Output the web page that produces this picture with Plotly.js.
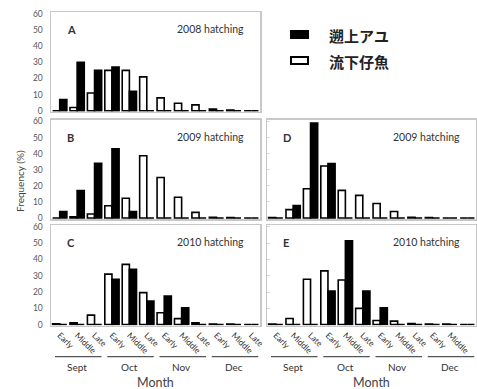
<!DOCTYPE html>
<html>
<head>
<meta charset="utf-8">
<script src="https://cdn.plot.ly/plotly-3.0.1.min.js"></script>
<style>html,body{margin:0;padding:0;background:#fff;}#chart{width:477px;height:389px;}</style>
</head>
<body>
<div id="chart"></div>
<script>
// ---- data ----
const months = ['Sept', 'Oct', 'Nov', 'Dec'];
const periods = ['Early', 'Middle', 'Late'];
const seriesNames = ['遡上アユ', '流下仔魚'];
const panelLetters = ['A', 'B', 'C', 'D', 'E'];
const panelYears = ['2008 hatching', '2009 hatching', '2010 hatching', '2009 hatching', '2010 hatching'];

// 遡上アユ (black) and 流下仔魚 (white), frequency (%) per 10-day period
const ascA = [7, 30, 25, 27, 12, 0, 0, 0, 0, 0, 0, 0];
const larA = [0, 2, 11, 25, 25, 21, 8, 4.6, 3.6, 1, 0.4, 0];
const ascB = [4, 17, 34, 43, 4, 0, 0, 0, 0, 0, 0, 0];
const larB = [0, 0.8, 2.5, 7.6, 12.3, 38.7, 25.2, 12.9, 3.5, 0.5, 0.3, 0];
const ascC = [0, 0, 0, 27.8, 34, 14.4, 17.5, 10.3, 0, 0, 0, 0];
const larC = [0.5, 1, 5.8, 31, 37, 19.6, 7.2, 3.6, 1, 0.3, 0.3, 0];
const ascD = [0, 7.8, 59, 33.8, 0, 0, 0, 0, 0, 0, 0, 0];
const larD = [0.3, 5.2, 18.2, 32.3, 17.2, 14.1, 9, 4.1, 0.5, 0.3, 0, 0];
const ascE = [0, 0, 0, 20.6, 51.5, 20.6, 10.3, 0, 0, 0, 0, 0];
const larE = [0.3, 3.7, 27.8, 33, 27.4, 9.9, 2.5, 2.1, 0.6, 0.3, 0.3, 0];

const ascending = [ascA, ascB, ascC, ascD, ascE];
const larvae = [larA, larB, larC, larD, larE];

// ---- layout helpers (pixel -> paper) ----
const W = 477, H = 389;
const px = v => v / W;
const py = v => 1 - v / H;

const xIdx = [];
const tickText = [];
months.forEach((m, mi) => periods.forEach((p, pi) => { xIdx.push(mi * 3 + pi); tickText.push(p); }));

const leftX = [51, 260], rightX = [267, 476];
const rowA = [12, 111.7], rowB = [119.5, 219], rowC = [225, 325.5];
const panels = [
  {x: leftX, y: rowA, xl: false, yl: true},
  {x: leftX, y: rowB, xl: false, yl: true},
  {x: leftX, y: rowC, xl: true, yl: true},
  {x: rightX, y: rowB, xl: false, yl: false},
  {x: rightX, y: rowC, xl: true, yl: false}
];

const FONT = 'Lato, "Open Sans", sans-serif';
const CJK = '"Noto Sans CJK JP", sans-serif';
const frameColor = '#c8c8c8';

const data = [];
const layout = {
  width: W, height: H,
  margin: {l: 0, r: 0, t: 0, b: 0},
  paper_bgcolor: '#fff', plot_bgcolor: '#fff',
  barmode: 'group', bargap: 0.18, bargroupgap: 0,
  showlegend: false,
  font: {family: FONT, color: '#444'},
  annotations: [], shapes: []
};

panels.forEach((p, i) => {
  const n = i + 1;
  const xa = 'x' + (n === 1 ? '' : n), ya = 'y' + (n === 1 ? '' : n);
  const xKey = 'xaxis' + (n === 1 ? '' : n), yKey = 'yaxis' + (n === 1 ? '' : n);
  data.push({
    type: 'bar', x: xIdx, y: larvae[i], name: seriesNames[1], xaxis: xa, yaxis: ya,
    marker: {color: '#ffffff', line: {color: '#000', width: 1.6}}, hoverinfo: 'y+name'
  });
  data.push({
    type: 'bar', x: xIdx, y: ascending[i], name: seriesNames[0], xaxis: xa, yaxis: ya,
    marker: {color: '#000000', line: {color: '#000', width: 1.6}}, hoverinfo: 'y+name'
  });
  layout[xKey] = {
    domain: [px(p.x[0]), px(p.x[1])], anchor: ya,
    range: [-0.5, 11.5], tickmode: 'array', tickvals: xIdx, ticktext: tickText,
    showticklabels: p.xl, tickangle: 45, tickfont: {size: 8.5, color: '#333'},
    ticks: '', showgrid: false, zeroline: false,
    showline: true, mirror: true, linecolor: frameColor, linewidth: 1.5, fixedrange: true
  };
  layout[yKey] = {
    domain: [py(p.y[1]), py(p.y[0])], anchor: xa,
    range: [-0.6, 61.2], tickmode: 'array', tickvals: [0, 10, 20, 30, 40, 50, 60],
    showticklabels: p.yl, tickfont: {size: 8.5, color: '#595959'}, ticklabelstandoff: 5,
    ticks: p.yl ? '' : 'inside', ticklen: 3, tickcolor: '#d8d8d8',
    showgrid: false, zeroline: false,
    showline: true, mirror: true, linecolor: frameColor, linewidth: 1.5, fixedrange: true
  };
  // panel letter
  layout.annotations.push({
    xref: 'paper', yref: 'paper', x: px(p.x[0] + 14), y: py(p.y[0] + 18),
    xanchor: 'left', yanchor: 'middle', showarrow: false,
    text: '<b>' + panelLetters[i] + '</b>', font: {size: 11, color: '#333', family: FONT}
  });
  // hatching year
  layout.annotations.push({
    xref: 'paper', yref: 'paper', x: px(p.x[1] - 14), y: py(p.y[0] + 17),
    xanchor: 'right', yanchor: 'middle', showarrow: false,
    text: panelYears[i], font: {size: 10.5, color: '#333', family: FONT}
  });
  if (p.xl) {
    months.forEach((m, mi) => {
      layout.shapes.push({
        type: 'line', xref: xa, yref: 'paper',
        x0: mi * 3 - 0.27, x1: mi * 3 + 2.4, y0: py(356.7), y1: py(356.7),
        line: {color: '#555', width: 1.3}
      });
      layout.annotations.push({
        xref: xa, yref: 'paper', x: mi * 3 + 1, y: py(367),
        xanchor: 'center', yanchor: 'middle', showarrow: false,
        text: m, font: {size: 10, color: '#333', family: FONT}
      });
    });
    layout.annotations.push({
      xref: 'paper', yref: 'paper', x: px((p.x[0] + p.x[1]) / 2), y: py(382),
      xanchor: 'center', yanchor: 'middle', showarrow: false,
      text: 'Month', font: {size: 12.5, color: '#444', family: FONT}
    });
  }
});

// y axis title
layout.annotations.push({
  xref: 'paper', yref: 'paper', x: px(20), y: py(181),
  xanchor: 'center', yanchor: 'middle', showarrow: false, textangle: -90,
  text: 'Frequency (%)', font: {size: 10, color: '#444', family: FONT}
});

// legend (drawn manually to match the wide flat keys)
const legendRows = [
  {name: seriesNames[0], fill: '#000', y: 34.5},
  {name: seriesNames[1], fill: '#fff', y: 60.5}
];
legendRows.forEach(r => {
  layout.shapes.push({
    type: 'rect', xref: 'paper', yref: 'paper',
    x0: px(291), x1: px(308), y0: py(r.y + 3.5), y1: py(r.y - 3.5),
    fillcolor: r.fill, line: {color: '#000', width: 2}
  });
  layout.annotations.push({
    xref: 'paper', yref: 'paper', x: px(327), y: py(r.y + 1),
    xanchor: 'left', yanchor: 'middle', showarrow: false,
    text: '<b>' + r.name + '</b>', font: {size: 15, color: '#222', family: CJK}
  });
});

Plotly.newPlot('chart', data, layout, {displayModeBar: false, staticPlot: true});
</script>
</body>
</html>
